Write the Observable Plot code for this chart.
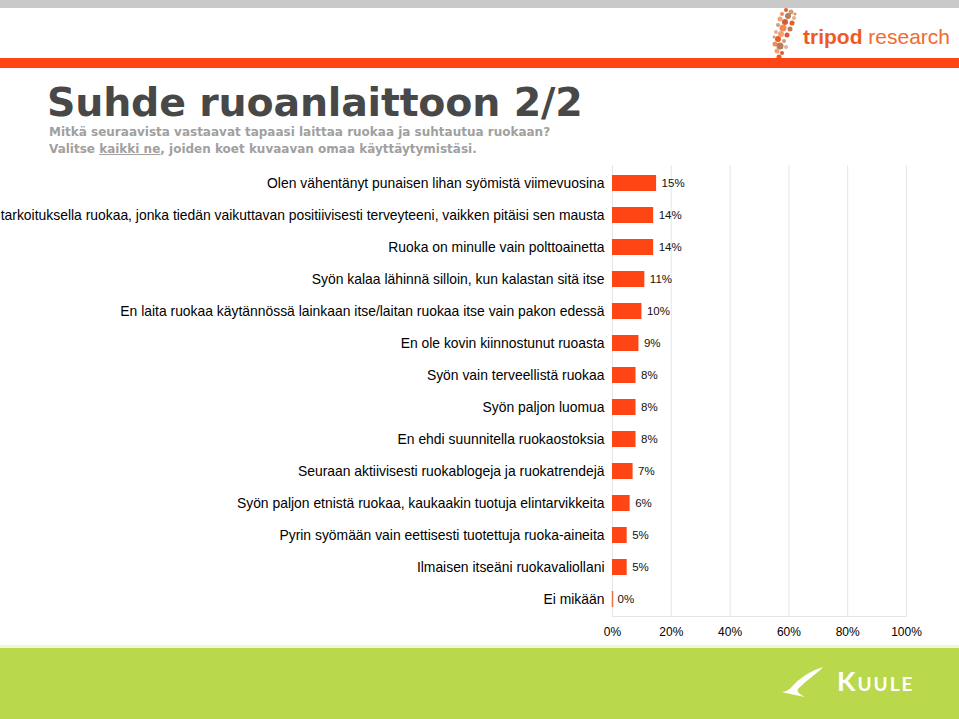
<!DOCTYPE html>
<html><head><meta charset="utf-8">
<script src="https://cdn.jsdelivr.net/npm/d3@7"></script>
<script src="https://cdn.jsdelivr.net/npm/@observablehq/plot@0.6"></script>
<style>
html,body{margin:0;padding:0;background:#fff;}
#page{position:relative;width:959px;height:719px;overflow:hidden;background:#fff;font-family:"Liberation Sans",Arial,sans-serif;}
#topstrip{position:absolute;left:0;top:0;width:959px;height:8px;background:#c9c9c9;}
#orangeline{position:absolute;left:0;top:58px;width:959px;height:10px;background:#ff4514;}
#title{position:absolute;left:47px;top:82px;font-family:"DejaVu Sans",sans-serif;font-weight:bold;font-size:39.5px;line-height:40px;color:#484848;white-space:nowrap;letter-spacing:-0.2px;}
#sub{position:absolute;left:49px;top:124px;font-family:"DejaVu Sans",sans-serif;font-weight:bold;font-size:12px;line-height:17px;color:#a0a0a0;white-space:nowrap;}
#sub u{text-decoration:underline;}
#logo{position:absolute;left:766px;top:6px;}
#logotext{position:absolute;left:803px;top:25px;font-family:"Liberation Sans",Arial,sans-serif;font-size:21px;color:#f26a2e;white-space:nowrap;}
#logotext b{font-weight:bold;color:#ef5a24;}
#chart{position:absolute;left:0;top:160px;}
#footwhite{position:absolute;left:0;top:645px;width:959px;height:3px;background:#eef6d6;}
#footer{position:absolute;left:0;top:648px;width:959px;height:71px;background:#b9d84b;}
#kuule{position:absolute;left:837px;top:667px;font-family:"Lato","DejaVu Sans",sans-serif;font-size:27px;line-height:28px;color:#fff;font-weight:bold;font-variant:small-caps;letter-spacing:2px;}
#swoosh{position:absolute;left:780px;top:664px;}
</style></head>
<body>
<div id="page">
  <div id="topstrip"></div>
  <svg id="logo" width="40" height="56" viewBox="0 0 40 56"></svg>
  <div id="logotext"><b>tripod</b> research</div>
  <div id="orangeline"></div>
  <div id="title">Suhde ruoanlaittoon 2/2</div>
  <div id="sub">Mitkä seuraavista vastaavat tapaasi laittaa ruokaa ja suhtautua ruokaan?<br>Valitse <u>kaikki ne</u>, joiden koet kuvaavan omaa käyttäytymistäsi.</div>
  <div id="chart"></div>
  <div id="footwhite"></div>
  <div id="footer"></div>
  <svg id="swoosh" width="50" height="36" viewBox="0 0 60 40">
    <path d="M52,2 C38,6 22,16 14,26 C10,30 6,32 2,32 C10,34 20,36 30,38 C22,34 18,30 24,26 C32,18 44,10 52,2 Z" fill="#fff"/>
  </svg>
  <div id="kuule">Kuule</div>
</div>
<script>
const categories = [
  "Olen vähentänyt punaisen lihan syömistä viimevuosina",
  "Syön tarkoituksella ruokaa, jonka tiedän vaikuttavan positiivisesti terveyteeni, vaikken pitäisi sen mausta",
  "Ruoka on minulle vain polttoainetta",
  "Syön kalaa lähinnä silloin, kun kalastan sitä itse",
  "En laita ruokaa käytännössä lainkaan itse/laitan ruokaa itse vain pakon edessä",
  "En ole kovin kiinnostunut ruoasta",
  "Syön vain terveellistä ruokaa",
  "Syön paljon luomua",
  "En ehdi suunnitella ruokaostoksia",
  "Seuraan aktiivisesti ruokablogeja ja ruokatrendejä",
  "Syön paljon etnistä ruokaa, kaukaakin tuotuja elintarvikkeita",
  "Pyrin syömään vain eettisesti tuotettuja ruoka-aineita",
  "Ilmaisen itseäni ruokavaliollani",
  "Ei mikään"
];
const values = [15, 14, 14, 11, 10, 9, 8, 8, 8, 7, 6, 5, 5, 0];
const xTicks = [0, 20, 40, 60, 80, 100];

const data = categories.map((c, i) => ({label: c, v: values[i]}));
const orange = "#ff4514";

const chart = Plot.plot({
  width: 959,
  height: 486,
  marginLeft: 612,
  marginRight: 53,
  marginTop: 5,
  marginBottom: 30,
  style: {fontFamily: "'Liberation Sans', Arial, sans-serif", background: "transparent", color: "#000", overflow: "visible"},
  x: {domain: [0, 100]},
  y: {domain: categories, paddingInner: 0.5, paddingOuter: 0.25},
  marks: [
    Plot.gridX(xTicks, {stroke: "#e6e6e6", strokeOpacity: 1}),
    Plot.frame({anchor: "bottom", stroke: "#e6e6e6"}),
    Plot.barX(data, {x: "v", y: "label", fill: orange}),
    Plot.tickX(data.filter(d => d.v === 0), {x: "v", y: "label", stroke: "#f0703a", strokeWidth: 1.5}),
    Plot.text(data, {x: "v", y: "label", text: d => d.v + "%", textAnchor: "start", dx: 5, fontSize: 11.5, fill: "#111"}),
    Plot.axisX(xTicks, {tickSize: 0, tickPadding: 11, tickFormat: d => d + "%", fontSize: 12, label: null}),
    Plot.axisY({tickSize: 0, tickPadding: 8, fontSize: 13.9, label: null, textOverflow: null})
  ]
});
document.getElementById("chart").appendChild(chart);

// decorative logo dots
const logo = d3.select("#logo");
const dots = [[20,4,2],[25,6,2.5],[16,8,2],[22,10,3],[28,12,2],[14,13,2.5],[19,16,3],[26,17,2.5],[12,19,2],[17,22,3.5],[24,23,2.5],[10,26,2],[15,28,3],[21,29,2.5],[12,33,3],[18,35,2],[9,38,2.5],[14,40,3.5],[20,41,2],[11,45,2.5],[16,47,2],[13,51,2.5],[8,31,1.5],[29,8,1.5]];
const cols = ["#ef5a24","#c8a07a","#f08a5a","#b97c5a","#e0b090","#f4a070","#d85a30"];
dots.forEach((d, i) => logo.append("circle").attr("cx", d[0]).attr("cy", d[1]).attr("r", d[2]).attr("fill", cols[i % cols.length]));
</script>
</body></html>
